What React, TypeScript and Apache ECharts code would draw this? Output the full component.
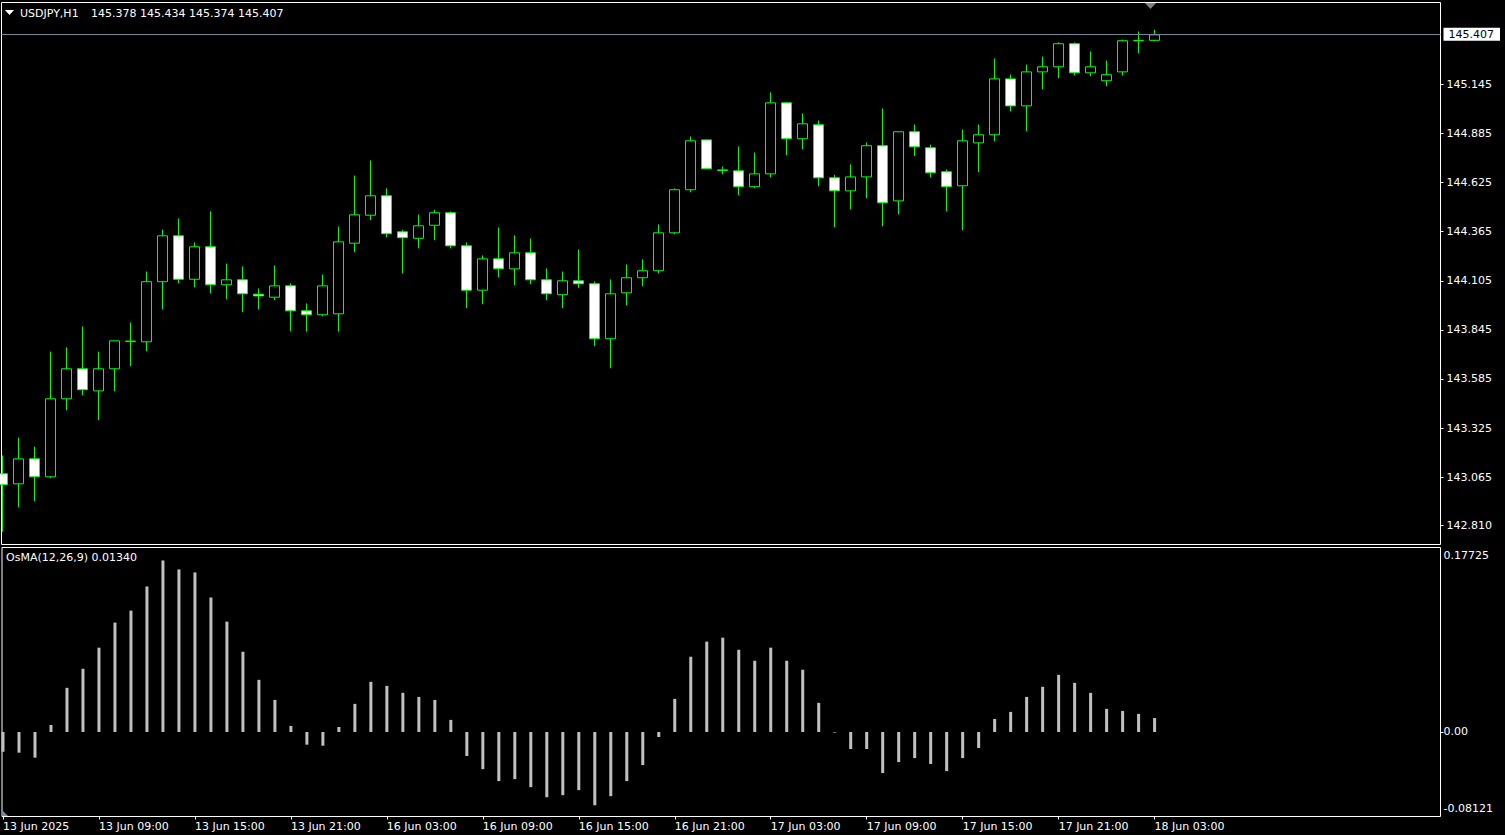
import { useEffect, useRef } from "react";
import * as echarts from "echarts";

const symbolName = "USDJPY,H1";
const indicatorName = "OsMA(12,26,9)";

const opens = [
  143.083, 143.030, 143.162, 143.067, 143.480, 143.639, 143.522, 143.639, 143.783, 143.782,
  144.100, 144.343, 144.113, 144.285, 144.084, 144.110, 144.034, 144.018, 144.078, 143.946,
  143.925, 143.930, 144.304, 144.452, 144.555, 144.364, 144.330, 144.399, 144.465, 144.290,
  144.055, 144.221, 144.168, 144.253, 144.110, 144.031, 144.105, 144.089, 143.798, 144.041,
  144.121, 144.158, 144.359, 144.587, 144.851, 144.692, 144.687, 144.603, 144.671, 145.047,
  144.857, 144.931, 144.650, 144.581, 144.655, 144.820, 144.528, 144.894, 144.809, 144.682,
  144.608, 144.835, 144.878, 145.174, 145.031, 145.211, 145.238, 145.360, 145.206, 145.164,
  145.211, 145.376, 145.378,
];
const highs = [
  143.180, 143.275, 143.227, 143.730, 143.752, 143.863, 143.730, 143.787, 143.884, 144.154,
  144.376, 144.435, 144.308, 144.472, 144.196, 144.181, 144.064, 144.186, 144.091, 143.985,
  144.138, 144.392, 144.662, 144.742, 144.594, 144.375, 144.456, 144.481, 144.472, 144.308,
  144.239, 144.387, 144.345, 144.329, 144.170, 144.154, 144.271, 144.101, 144.112, 144.191,
  144.218, 144.403, 144.594, 144.869, 144.853, 144.710, 144.816, 144.784, 145.102, 145.049,
  144.991, 144.954, 144.666, 144.721, 144.837, 145.017, 144.895, 144.932, 144.826, 144.694,
  144.906, 144.932, 145.282, 145.197, 145.250, 145.292, 145.367, 145.367, 145.319, 145.271,
  145.382, 145.425, 145.434,
];
const lows = [
  142.777, 142.906, 142.938, 143.060, 143.420, 143.499, 143.367, 143.520, 143.653, 143.732,
  143.954, 144.092, 144.071, 144.039, 144.007, 143.939, 143.954, 144.002, 143.838, 143.836,
  143.917, 143.836, 144.256, 144.426, 144.336, 144.145, 144.277, 144.320, 144.277, 143.960,
  143.981, 144.124, 144.082, 144.087, 144.002, 143.960, 144.066, 143.759, 143.642, 143.976,
  144.076, 144.145, 144.352, 144.574, 144.698, 144.669, 144.558, 144.595, 144.653, 144.770,
  144.802, 144.606, 144.389, 144.484, 144.542, 144.394, 144.457, 144.765, 144.653, 144.473,
  144.373, 144.680, 144.844, 145.003, 144.897, 145.119, 145.178, 145.193, 145.188, 145.135,
  145.193, 145.310, 145.374,
];
const closes = [
  143.025, 143.162, 143.067, 143.480, 143.639, 143.528, 143.639, 143.787, 143.786, 144.100,
  144.343, 144.113, 144.285, 144.084, 144.110, 144.036, 144.025, 144.078, 143.946, 143.925,
  144.078, 144.311, 144.454, 144.555, 144.354, 144.333, 144.396, 144.465, 144.290, 144.055,
  144.221, 144.168, 144.253, 144.110, 144.036, 144.105, 144.089, 143.798, 144.036, 144.121,
  144.158, 144.359, 144.587, 144.846, 144.698, 144.689, 144.603, 144.671, 145.047, 144.857,
  144.936, 144.650, 144.581, 144.655, 144.820, 144.518, 144.894, 144.814, 144.677, 144.603,
  144.846, 144.878, 145.174, 145.031, 145.211, 145.238, 145.360, 145.206, 145.238, 145.196,
  145.376, 145.378, 145.407,
];
const osmaValues = [
  -0.0190, -0.0199, -0.0247, 0.0067, 0.0424, 0.0607, 0.0810, 0.1051, 0.1166, 0.1398,
  0.1648, 0.1562, 0.1533, 0.1292, 0.1060, 0.0771, 0.0501, 0.0308, 0.0058, -0.0122,
  -0.0132, 0.0048, 0.0270, 0.0482, 0.0443, 0.0376, 0.0337, 0.0308, 0.0116, -0.0231,
  -0.0357, -0.0472, -0.0453, -0.0530, -0.0627, -0.0607, -0.0559, -0.0704, -0.0617, -0.0472,
  -0.0318, -0.0048, 0.0318, 0.0723, 0.0868, 0.0906, 0.0790, 0.0684, 0.0810, 0.0684,
  0.0598, 0.0280, -0.0006, -0.0164, -0.0164, -0.0395, -0.0289, -0.0251, -0.0308, -0.0376,
  -0.0251, -0.0154, 0.0125, 0.0193, 0.0337, 0.0434, 0.0549, 0.0472, 0.0376, 0.0222,
  0.0202, 0.0174, 0.0134,
];
const osmaLast = 0.0134;

const timeTickLabels = [
  "13 Jun 2025", "13 Jun 09:00", "13 Jun 15:00", "13 Jun 21:00", "16 Jun 03:00",
  "16 Jun 09:00", "16 Jun 15:00", "16 Jun 21:00", "17 Jun 03:00", "17 Jun 09:00",
  "17 Jun 15:00", "17 Jun 21:00", "18 Jun 03:00",
];
const barsPerTimeTick = 6;
const priceTicks = [142.81, 143.065, 143.325, 143.585, 143.845, 144.105, 144.365, 144.625, 144.885, 145.145];
const priceMin = 142.7086;
const priceMax = 145.5784;
const osmaMin = -0.08121;
const osmaMax = 0.17725;
const osmaTicks = [osmaMin, 0, osmaMax];

const FONT = "'DejaVu Sans', Tahoma, sans-serif";

export default function App() {
  const ref = useRef<HTMLDivElement>(null);

  useEffect(() => {
    document.body.style.margin = "0";
    document.body.style.background = "#000";
    const chart = echarts.init(ref.current!, null, { renderer: "svg" });

    const n = closes.length;
    const candleData = opens.map((o, i) => [i, o, closes[i], lows[i], highs[i]]);
    const osmaData = osmaValues.map((v, i) => [i, v]);
    const tickIdx = timeTickLabels.map((_, k) => k * barsPerTimeTick);

    const slot = 16;
    const gridLeft = 1.5;
    const gridWidth = 1439;
    const firstCenter = 2.5;
    const xMin = (gridLeft - firstCenter) / slot;
    const xMax = xMin + gridWidth / slot;

    const last = n - 1;
    const headerValues = [opens[last], highs[last], lows[last], closes[last]].map((v) => v.toFixed(3)).join(" ");

    const white = "#ffffff";

    chart.setOption({
      animation: false,
      backgroundColor: "#000000",
      grid: [
        { left: gridLeft, top: 2.5, width: gridWidth, height: 542, show: true, borderColor: white, borderWidth: 1, backgroundColor: "#000" },
        { left: gridLeft, top: 547.5, width: gridWidth, height: 269, show: true, borderColor: white, borderWidth: 1, backgroundColor: "#000" },
      ],
      xAxis: [
        { type: "value", gridIndex: 0, min: xMin, max: xMax, show: false },
        {
          type: "value",
          gridIndex: 1,
          min: xMin,
          max: xMax,
          position: "bottom",
          axisLine: { show: false, onZero: false },
          splitLine: { show: false },
          axisTick: { show: true, customValues: tickIdx, length: 3, lineStyle: { color: white } },
          axisLabel: {
            customValues: tickIdx,
            formatter: (v: number) => timeTickLabels[Math.round(v / barsPerTimeTick)] ?? "",
            color: white,
            align: "left",
            margin: 4,
            fontSize: 11,
            fontFamily: FONT,
          },
        },
      ],
      yAxis: [
        {
          type: "value",
          gridIndex: 0,
          position: "right",
          min: priceMin,
          max: priceMax,
          axisLine: { show: false, onZero: false },
          splitLine: { show: false },
          axisTick: { show: true, customValues: priceTicks, length: 3, lineStyle: { color: white } },
          axisLabel: {
            customValues: priceTicks,
            formatter: (v: number) => v.toFixed(3),
            color: white,
            margin: 6,
            fontSize: 11,
            fontFamily: FONT,
          },
        },
        {
          type: "value",
          gridIndex: 1,
          position: "right",
          min: osmaMin,
          max: osmaMax,
          axisLine: { show: false, onZero: false },
          splitLine: { show: false },
          axisTick: { show: true, customValues: [0], length: 3, lineStyle: { color: white } },
          axisLabel: {
            customValues: osmaTicks,
            showMinLabel: true,
            showMaxLabel: true,
            formatter: (v: number) => {
              if (Math.abs(v - osmaMax) < 1e-9) return `{top|${v.toFixed(5)}}`;
              if (Math.abs(v - osmaMin) < 1e-9) return `{bot|${v.toFixed(5)}}`;
              return v.toFixed(2);
            },
            color: white,
            margin: 3,
            fontSize: 11,
            fontFamily: FONT,
            rich: {
              top: { padding: [15, 0, 0, 0], color: white, fontSize: 11, fontFamily: FONT },
              bot: { padding: [0, 0, 16, 0], color: white, fontSize: 11, fontFamily: FONT },
            },
          },
        },
      ],
      series: [
        {
          type: "candlestick",
          xAxisIndex: 0,
          yAxisIndex: 0,
          data: candleData,
          barWidth: 10,
          clip: true,
          itemStyle: {
            color: "#000000",
            color0: "#ffffff",
            borderColor: "#00ff00",
            borderColor0: "#00ff00",
            borderColorDoji: "#00ff00",
            borderWidth: 1,
          },
          emphasis: { disabled: true },
          markLine: {
            silent: true,
            symbol: ["none", "none"],
            data: [{ yAxis: closes[last] }],
            lineStyle: { color: "#778899", width: 1, type: "solid" },
            label: {
              show: true,
              position: "end",
              formatter: () => closes[last].toFixed(3),
              backgroundColor: "#ffffff",
              color: "#000000",
              padding: [1, 6, 1, 5],
              distance: 3,
              fontSize: 11,
              fontFamily: FONT,
            },
          },
        },
        {
          type: "bar",
          xAxisIndex: 1,
          yAxisIndex: 1,
          data: osmaData,
          barWidth: 3,
          itemStyle: { color: "#c0c0c0" },
          emphasis: { disabled: true },
        },
      ],
      graphic: [
        { type: "polygon", shape: { points: [[5, 10], [14, 10], [9.5, 15]] }, style: { fill: white } },
        { type: "text", x: 20, y: 13, style: { text: symbolName, fill: white, fontSize: 11, fontFamily: FONT, verticalAlign: "middle" } },
        { type: "text", x: 91, y: 13, style: { text: headerValues, fill: white, fontSize: 11, fontFamily: FONT, verticalAlign: "middle" } },
        { type: "text", x: 6, y: 557, style: { text: `${indicatorName} ${osmaLast.toFixed(5)}`, fill: white, fontSize: 11, fontFamily: FONT, verticalAlign: "middle" } },
        { type: "polygon", shape: { points: [[1145, 3], [1156, 3], [1150.5, 9]] }, style: { fill: "#808080" } },
        { type: "polygon", shape: { points: [[2, 810], [2, 816], [8, 816]] }, style: { fill: "#778899" } },
      ],
    });

    return () => chart.dispose();
  }, []);

  return <div ref={ref} style={{ width: 1505, height: 835, background: "#000" }} />;
}
